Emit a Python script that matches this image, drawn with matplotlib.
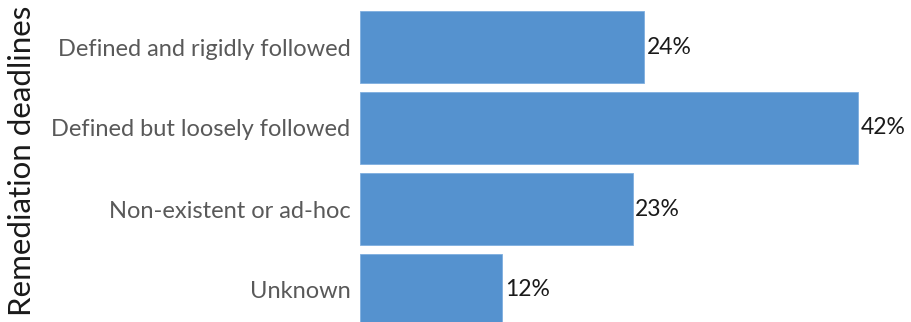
import matplotlib
matplotlib.use("Agg")
import matplotlib.pyplot as plt

categories = ["Defined and rigidly followed", "Defined but loosely followed",
              "Non-existent or ad-hoc", "Unknown"]
values = [24, 42, 23, 12]
value_labels = ["24%", "42%", "23%", "12%"]
axis_title = "Remediation deadlines"

plt.rcParams["font.family"] = ["Lato", "DejaVu Sans"]

W, H = 911, 322
fig = plt.figure(figsize=(W / 100, H / 100), dpi=100)
# axes spans from the left edge of the bars to the right edge of the figure
left_px, top_px = 360, 11
ax = fig.add_axes([left_px / W, 0, (W - left_px) / W, (H - top_px) / H])

bar_h = 72 / 81
ypos = list(range(len(categories)))
ax.barh(ypos, values, height=bar_h, color="#5592cf", edgecolor="#7eaee0", linewidth=0.6)

ax.set_xlim(0, (W - left_px) / 11.85)
ax.set_ylim(-bar_h / 2 + (H - top_px) / 81, -bar_h / 2)

for y, v, lab in zip(ypos, values, value_labels):
    ax.annotate(lab, (v, y), xytext=(2, 0), textcoords="offset points",
                ha="left", va="center", fontsize=16.5, color="#1a1a1a")

ax.set_yticks(ypos)
ax.set_yticklabels(categories, fontsize=17, color="#595959")
ax.tick_params(axis="y", length=0, pad=7)
ax.set_xticks([])
for s in ax.spines.values():
    s.set_visible(False)

fig.text(22 / W, 0.5, axis_title, rotation=90, ha="center", va="center",
         fontsize=22.5, color="#1a1a1a")

fig.savefig("out.png", dpi=100)
